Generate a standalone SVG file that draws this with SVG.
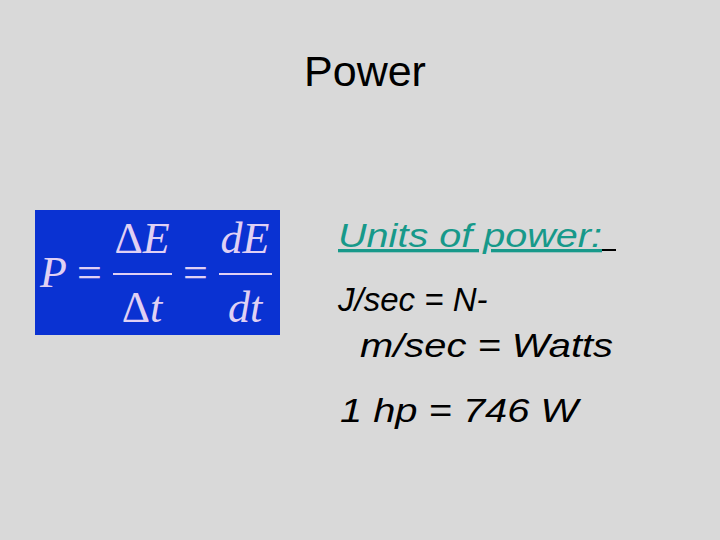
<svg xmlns="http://www.w3.org/2000/svg" width="720" height="540" viewBox="0 0 720 540">
<style>
.m{font-family:"Liberation Serif",serif;fill:#e0d0f4;font-size:44px}
.i{font-style:italic}
.t{font-family:"Liberation Sans",sans-serif;font-size:33px;font-style:italic;fill:#000}
</style>
<rect width="720" height="540" fill="#d9d9d9"/>
<text x="365" y="86" text-anchor="middle" font-family="Liberation Sans,sans-serif" font-size="43">Power</text>
<g id="formula">
<rect x="35" y="210" width="245" height="125" fill="#0a32d2"/>
<text class="m i" x="40" y="287" font-size="46">P</text>
<text class="m" x="77" y="287">=</text>
<text class="m" x="142" y="253" text-anchor="middle">Δ<tspan class="i">E</tspan></text>
<rect x="113" y="273" width="59" height="2" fill="#e0d0f4"/>
<text class="m" x="142" y="322" text-anchor="middle">Δ<tspan class="i">t</tspan></text>
<text class="m" x="183" y="287">=</text>
<text class="m i" x="245" y="253" text-anchor="middle">dE</text>
<rect x="219" y="273" width="53" height="2" fill="#e0d0f4"/>
<text class="m i" x="245" y="322" text-anchor="middle">dt</text>
</g>
<g id="units">
<text class="t" x="338" y="247" style="fill:#17998a" text-decoration="underline" textLength="264" lengthAdjust="spacingAndGlyphs">Units of power:</text>
<rect x="602" y="249" width="14" height="2" fill="#000"/>
<text class="t" x="338" y="311">J/sec = N-</text>
<text class="t" x="360" y="357" textLength="253" lengthAdjust="spacingAndGlyphs">m/sec = Watts</text>
<text class="t" x="340" y="422" textLength="238" lengthAdjust="spacingAndGlyphs">1 hp = 746 W</text>
</g>
</svg>
